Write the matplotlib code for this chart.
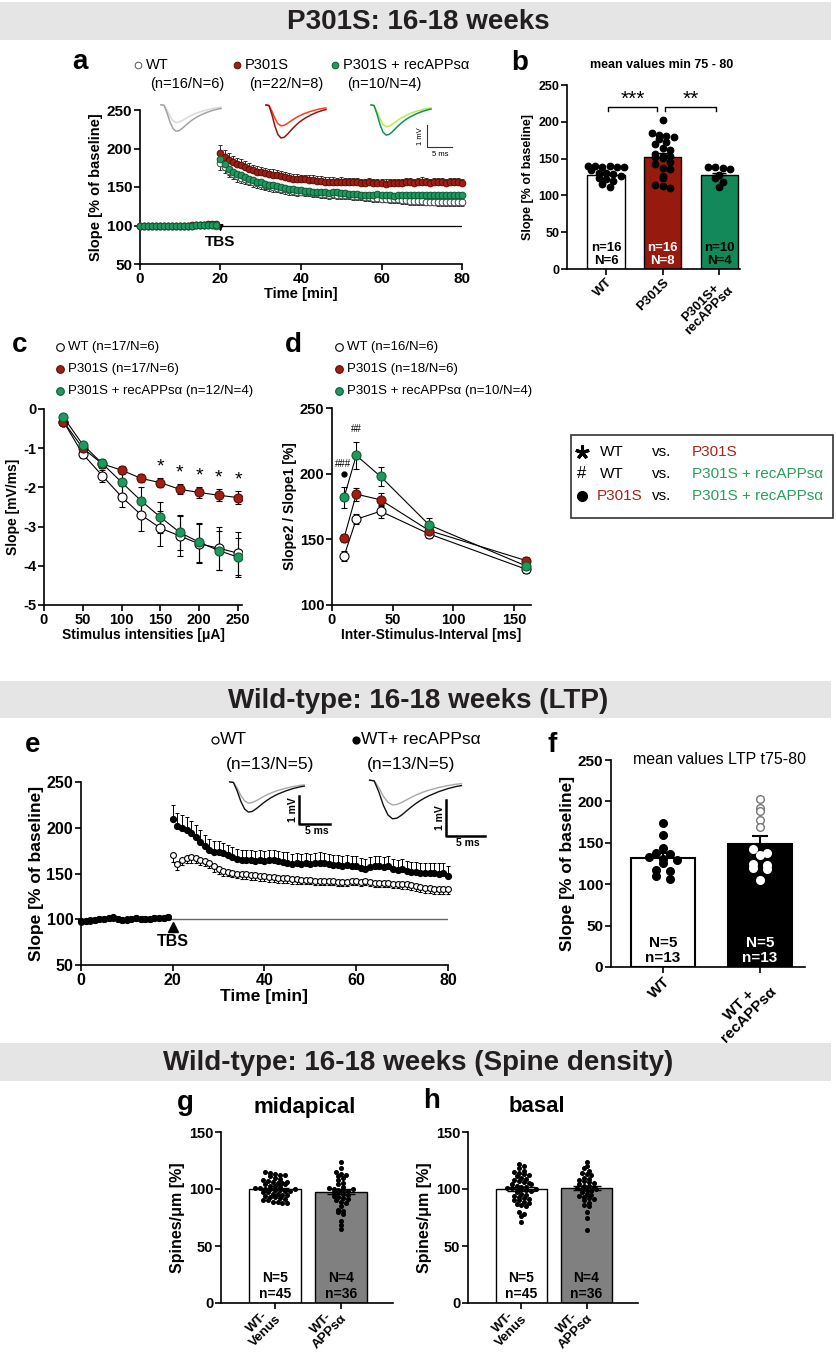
import numpy as np
import matplotlib.pyplot as plt
from matplotlib.patches import Rectangle

plt.rcParams['font.family'] = ['Liberation Sans', 'DejaVu Sans']

RED = '#a31e12'
RED_EDGE = '#5a0c05'
GREEN = '#1f9a5e'
GREEN_EDGE = '#0b5a33'
RED_BAR = '#961a0e'
GREEN_BAR = '#13895a'
RED_TXT = '#a8231a'
GREEN_TXT = '#2a9d5c'

# ---------------- data ----------------
TBS_TIME = 20
t_base = np.arange(0, 20)
t_post = np.arange(20, 81)

# a: LTP P301S 16-18 weeks (slope % of baseline)
a_wt_base = [99, 100, 100, 100, 100, 100, 100, 100, 100, 100, 100, 100, 100, 100, 101, 101, 101, 101, 101, 100]
a_red_base = [100, 100, 100, 100, 100, 100, 100, 100, 100, 100, 100, 100, 100, 101, 101, 101, 101, 102, 102, 102]
a_green_base = [99, 99, 100, 100, 100, 100, 100, 100, 100, 100, 100, 100, 100, 100, 101, 101, 101, 101, 101, 101]
a_red_post = [194, 189, 185, 182, 180, 178, 176, 174, 172, 170,
              169, 168, 167, 166, 165, 164, 163, 162, 161, 161,
              160, 160, 159, 159, 158, 158, 157, 157, 157, 156,
              157, 156, 156, 156, 156, 155, 155, 156, 155, 155,
              155, 154, 155, 155, 155, 155, 156, 156, 155, 156,
              157, 156, 155, 156, 156, 156, 155, 156, 156, 156,
              155]
a_green_post = [187, 180, 174, 170, 167, 165, 163, 161, 159, 157,
                156, 154, 153, 152, 151, 150, 149, 148, 147, 146,
                146, 145, 145, 144, 144, 143, 143, 142, 144, 143,
                142, 142, 141, 141, 141, 140, 140, 140, 140, 141,
                139, 139, 139, 138, 139, 139, 139, 140, 139, 139,
                139, 139, 139, 139, 140, 139, 139, 139, 139, 139,
                139]
a_wt_post = [181, 176, 171, 167, 164, 162, 160, 158, 156, 155,
             154, 152, 151, 150, 149, 148, 147, 146, 145, 144,
             144, 143, 143, 142, 142, 141, 141, 140, 141, 140,
             140, 139, 139, 138, 138, 138, 137, 137, 136, 136,
             135, 135, 134, 134, 134, 133, 133, 132, 132, 132,
             132, 131, 131, 131, 130, 130, 130, 130, 130, 130,
             130]
a_base_sem = [1, 1, 1, 1, 1, 1, 1, 1, 1, 1, 1, 1, 1, 1, 2, 2, 2, 2, 2, 2]
a_red_sem_post = [11, 9, 9, 8, 8, 8, 8, 7, 7, 7,
                  7, 7, 7, 7, 7, 7, 6, 6, 6, 6,
                  6, 6, 6, 6, 6, 6, 6, 6, 6, 6,
                  6, 6, 6, 6, 6, 6, 6, 6, 6, 6,
                  6, 6, 6, 6, 6, 6, 6, 6, 6, 6,
                  6, 6, 6, 6, 6, 6, 6, 6, 6, 6,
                  6]
a_grn_sem_post = [9, 8, 8, 7, 7, 7, 6, 6, 6, 6,
                  6, 6, 6, 6, 6, 6, 6, 6, 6, 6,
                  5, 5, 5, 5, 5, 5, 5, 5, 5, 5,
                  5, 5, 5, 5, 5, 5, 5, 5, 5, 5,
                  5, 5, 5, 5, 5, 5, 5, 5, 5, 5,
                  5, 5, 5, 5, 5, 5, 5, 5, 5, 5,
                  5]

# b: mean values min 75-80
b_groups = ['WT', 'P301S', 'P301S+\nrecAPPsα']
b_means = [128, 152, 128]
b_sem = [3, 5, 3]
b_wt = [140, 140, 139, 140, 138, 138, 134, 131, 130, 129, 126, 124, 122, 119, 116, 112]
b_p301s = [203, 185, 182, 181, 180, 176, 172, 170, 164, 162, 156, 154, 153, 152, 151, 145,
           143, 137, 136, 126, 124, 114, 113, 110]
b_rec = [139, 138, 137, 136, 128, 124, 118, 111]
b_n = ['n=16\nN=6', 'n=16\nN=8', 'n=10\nN=4']

# c: input-output
c_x = [25, 50, 75, 100, 125, 150, 175, 200, 225, 250]
c_wt = [-0.32, -1.15, -1.70, -2.24, -2.70, -3.04, -3.24, -3.44, -3.55, -3.68]
c_red = [-0.32, -1.00, -1.40, -1.56, -1.77, -1.88, -2.05, -2.13, -2.20, -2.26]
c_grn = [-0.21, -0.91, -1.39, -1.87, -2.34, -2.76, -3.15, -3.40, -3.61, -3.78]
c_wt_sem = [0.05, 0.10, 0.15, 0.27, 0.40, 0.45, 0.50, 0.50, 0.55, 0.55]
c_red_sem = [0.04, 0.07, 0.10, 0.10, 0.10, 0.12, 0.13, 0.15, 0.15, 0.17]
c_grn_sem = [0.04, 0.07, 0.12, 0.30, 0.35, 0.40, 0.45, 0.50, 0.50, 0.50]
c_star_x = [150, 175, 200, 225, 250]

# d: paired pulse
d_x = [10, 20, 40, 80, 160]
d_wt = [137.4, 165.3, 171.4, 154.1, 127.2]
d_red = [151.3, 184.4, 180.1, 156.7, 133.8]
d_grn = [182.1, 213.9, 197.9, 161.0, 129.7]
d_wt_sem = [4, 4, 5, 3, 3]
d_red_sem = [3, 5, 5, 4, 3]
d_grn_sem = [8, 10, 7, 5, 3]

# e: LTP wild-type
e_wt_base = [97, 98, 98, 99, 100, 100, 101, 101, 100, 99, 100, 100, 101, 100, 100, 100, 101, 101, 101, 102]
e_app_base = [98, 98, 99, 99, 100, 100, 101, 102, 100, 99, 99, 100, 101, 100, 100, 100, 101, 101, 101, 102]
e_app_post = [210, 202, 200, 198, 194, 190, 184, 180, 176, 174,
              173, 172, 170, 168, 166, 165, 165, 165, 164, 165,
              164, 165, 165, 164, 163, 162, 160, 161, 160, 161,
              160, 161, 162, 161, 160, 159, 159, 158, 159, 158,
              158, 156, 155, 157, 158, 158, 157, 158, 155, 154,
              155, 153, 152, 152, 151, 151, 151, 151, 150, 151,
              147]
e_wt_post = [170, 160, 165, 167, 168, 167, 165, 164, 162, 158,
             155, 153, 152, 151, 150, 149, 149, 148, 148, 147,
             147, 146, 146, 145, 145, 145, 144, 144, 143, 143,
             143, 142, 142, 142, 142, 142, 141, 141, 141, 142,
             142, 141, 142, 141, 140, 140, 140, 140, 139, 139,
             138, 138, 137, 136, 135, 134, 134, 133, 133, 133,
             133]
e_app_sem_post = [15, 14, 14, 14, 13, 13, 13, 12, 12, 12,
                  12, 11, 11, 11, 11, 11, 11, 11, 11, 11,
                  11, 11, 11, 11, 11, 11, 11, 11, 11, 11,
                  11, 11, 11, 11, 11, 11, 11, 11, 11, 11,
                  11, 11, 11, 11, 11, 11, 11, 11, 11, 11,
                  11, 11, 11, 11, 11, 11, 11, 11, 11, 11,
                  11]
e_wt_sem_post = [7, 6, 6, 6, 6, 6, 6, 6, 6, 6,
                 6, 6, 5, 5, 5, 5, 5, 5, 5, 5,
                 5, 5, 5, 5, 5, 5, 5, 5, 5, 5,
                 5, 5, 5, 5, 5, 5, 5, 5, 5, 5,
                 5, 5, 5, 5, 5, 5, 5, 5, 5, 5,
                 5, 5, 5, 5, 5, 5, 5, 5, 5, 5,
                 5]

# f: mean values LTP t75-80
f_groups = ['WT', 'WT +\nrecAPPsα']
f_means = [132, 148]
f_sem = [6, 10]
f_wt = [174, 160, 144, 138, 137, 133, 131, 129, 126, 117, 116, 110, 106]
f_app = [203, 192, 189, 177, 169, 142, 138, 135, 124, 123, 119, 118, 105]
f_n = ['N=5\nn=13', 'N=5\nn=13']

# g, h: spine density
gh_groups = ['WT-\nVenus', 'WT-\nAPPsα']
g_means = [100, 97.5]
g_sem = [1.3, 2.2]
g_venus = [115, 114, 113, 112, 112, 111, 110, 109, 108, 107, 106, 105, 105, 104, 103, 103, 102, 101,
           101, 100, 100, 99, 99, 98, 98, 97, 97, 96, 96, 95, 95, 94, 93, 93, 92, 91, 90, 90, 89,
           89, 88, 88, 104, 106, 100]
g_apps = [124, 118, 115, 113, 112, 111, 110, 108, 105, 104, 102, 101, 100, 99, 99, 98, 97, 97,
          96, 95, 94, 93, 92, 91, 90, 89, 88, 85, 82, 81, 80, 78, 72, 68, 65, 100]
h_means = [100, 101.2]
h_sem = [1.6, 1.8]
h_venus = [122, 120, 118, 116, 115, 114, 113, 112, 111, 110, 109, 108, 107, 106, 105, 104, 103,
           102, 102, 101, 101, 100, 100, 99, 98, 97, 96, 95, 94, 93, 92, 91, 90, 90, 89, 88, 87,
           86, 85, 80, 78, 76, 71, 104, 100]
h_apps = [124, 120, 118, 116, 114, 113, 112, 110, 109, 108, 107, 106, 105, 104, 103, 103, 102,
          101, 100, 99, 98, 97, 96, 95, 94, 93, 92, 91, 90, 88, 86, 85, 80, 75, 64, 100]
gh_n = ['N=5\nn=45', 'N=4\nn=36']

# example EPSP trace (normalised) for the insets
epsp_shape = [0.0, -0.02, -0.3, -0.65, -0.9, -1.0, -0.98, -0.9, -0.8, -0.7, -0.61,
              -0.53, -0.46, -0.4, -0.35, -0.3, -0.26, -0.22, -0.19, -0.16, -0.14]

# ---------------- layout helpers ----------------
W, H = 837, 1353
fig = plt.figure(figsize=(W / 100, H / 100), dpi=100)


def px_axes(left, top, right, bottom, **kw):
    return fig.add_axes([left / W, 1 - bottom / H, (right - left) / W, (bottom - top) / H], **kw)


def style(ax, xticks, yticks, size, xlabels=None, xsize=None, xva='top'):
    for s in ['top', 'right']:
        ax.spines[s].set_visible(False)
    for s in ['left', 'bottom']:
        ax.spines[s].set_linewidth(1.2)
    kw = dict(fontsize=size, fontweight='bold')
    if xlabels is None:
        ax.set_xticks(xticks, [str(v) for v in xticks], **kw)
    else:
        ax.set_xticks(xticks, xlabels, rotation=45, ha='right', va=xva, rotation_mode='anchor',
                      multialignment='center', linespacing=0.95, fontsize=xsize or size,
                      fontweight='bold')
    ax.set_yticks(yticks, [str(v) for v in yticks], **kw)
    ax.tick_params(direction='out', length=4, width=1.2, pad=1.5)


def swarm(vals, bin_size, step):
    vals = np.asarray(vals, dtype=float)
    keys = np.floor(vals / bin_size)
    offs = np.zeros(len(vals))
    for k in np.unique(keys):
        idx = np.where(keys == k)[0]
        offs[idx] = (np.arange(len(idx)) - (len(idx) - 1) / 2) * step
    return offs


def trace_inset(left, top, right, bottom, amps, colors, lw=1.1):
    ta = px_axes(left, top, right, bottom)
    shape = np.array(epsp_shape)
    for amp, col in zip(amps, colors):
        ta.plot(np.arange(len(shape)), shape * amp, color=col, lw=lw)
    ta.set_ylim(-1.03, 0.03)
    ta.axis('off')


# background bands with section headers
bg = px_axes(0, 0, W, H, zorder=-5)
bg.set_xlim(0, W)
bg.set_ylim(H, 0)
bg.axis('off')
headers = [(2, 40, 'P301S: 16-18 weeks'), (681, 718, 'Wild-type: 16-18 weeks (LTP)'),
           (1043, 1081, 'Wild-type: 16-18 weeks (Spine density)')]
for top, bottom, title in headers:
    bg.add_patch(Rectangle((0, top), 831, bottom - top, color='#e5e5e5', lw=0))
    bg.text(418, (top + bottom) / 2 + 1, title, ha='center', va='center', fontsize=20,
            fontweight='bold', color='#231f20')

t_all = np.concatenate([t_base, t_post])

# ---------------- panel a ----------------
ax = px_axes(140, 110, 462, 264)
ax.plot([0, 80], [100, 100], color='black', lw=0.9, zorder=1)
series_a = [(a_wt_base + a_wt_post, a_base_sem + a_grn_sem_post, 'white', '#444444', -1),
            (a_red_base + a_red_post, a_base_sem + a_red_sem_post, RED, RED_EDGE, 1),
            (a_green_base + a_green_post, a_base_sem + a_grn_sem_post, GREEN, GREEN_EDGE, -1)]
for vals, sem, face, edge, side in series_a:
    sem = np.array(sem, dtype=float)
    zero = np.zeros_like(sem)
    yerr = [sem, zero] if side < 0 else [zero, sem]
    ax.errorbar(t_all, vals, yerr=yerr, fmt='o', ms=4.8, mfc=face, mec=edge, mew=0.7,
                ecolor='#333333', elinewidth=0.7, capsize=1.5, capthick=0.7, clip_on=False, zorder=3)
ax.annotate('', xy=(TBS_TIME, 89), xytext=(TBS_TIME, 99),
            arrowprops=dict(arrowstyle='-|>', color='black', lw=1.2, mutation_scale=8))
ax.text(TBS_TIME, 78, 'TBS', ha='center', va='center', fontsize=11, fontweight='bold')
ax.set_xlim(0, 80)
ax.set_ylim(50, 250)
style(ax, [0, 20, 40, 60, 80], [50, 100, 150, 200, 250], 11)
ax.set_xlabel('Time [min]', fontsize=10.5, fontweight='bold', labelpad=1)
ax.set_ylabel('Slope [% of baseline]', fontsize=10.5, fontweight='bold', labelpad=3)

trace_inset(158, 104, 224, 132, [0.67, 1.0], ['#dadada', '#a3a3a3'])
trace_inset(263, 104, 329, 139, [0.63, 1.0], ['#ff3b1f', '#8e1810'])
trace_inset(368, 104, 434, 136, [0.72, 1.0], ['#b5ef47', '#138f58'])

# ---------------- panel b ----------------
ax = px_axes(567, 85, 740, 269)
xb = np.arange(len(b_groups))
ax.bar(xb, b_means, width=0.655, color=['white', RED_BAR, GREEN_BAR], edgecolor='black', lw=1, zorder=1)
ax.errorbar(xb, b_means, yerr=[np.zeros(3), b_sem], fmt='none', ecolor='black', capsize=5,
            elinewidth=1, capthick=1, zorder=2)
for i, vals in enumerate([b_wt, b_p301s, b_rec]):
    ax.plot(i + swarm(vals, 9, 0.13), vals, 'o', ms=4.6, color='black', zorder=3)
ax.plot([0.03, 0.03, 0.9, 0.9], [215, 220, 220, 215], color='black', lw=1)
ax.plot([1.05, 1.05, 1.95, 1.95], [215, 220, 220, 215], color='black', lw=1)
ax.text(0.47, 217, '***', ha='center', va='bottom', fontsize=15)
ax.text(1.5, 217, '**', ha='center', va='bottom', fontsize=15)
for i, lab in enumerate(b_n):
    ax.text(i, 20, lab, ha='center', va='center', fontsize=9.5, fontweight='bold',
            color='white' if i == 1 else 'black', linespacing=1.05)
ax.set_xlim(-0.69, 2.37)
ax.set_ylim(0, 250)
style(ax, xb, [0, 50, 100, 150, 200, 250], 9, xlabels=b_groups, xsize=9.5)
ax.set_ylabel('Slope [% of baseline]', fontsize=9, fontweight='bold', labelpad=3)

# ---------------- panel c ----------------
ax = px_axes(44, 409, 242, 605)
for vals, sem, face, edge in [(c_wt, c_wt_sem, 'white', 'black'), (c_red, c_red_sem, RED, RED_EDGE),
                              (c_grn, c_grn_sem, GREEN, GREEN_EDGE)]:
    ax.errorbar(c_x, vals, yerr=sem, fmt='-o', color='black', lw=0.8, ms=6.5, mfc=face, mec=edge,
                mew=0.8, ecolor='black', elinewidth=0.8, capsize=2, capthick=0.8, zorder=3)
for x in c_star_x:
    i = c_x.index(x)
    ax.text(x, c_red[i] + c_red_sem[i] + 0.28, '*', ha='center', va='center', fontsize=14)
ax.set_xlim(0, 255)
ax.set_ylim(-5, 0)
style(ax, [0, 50, 100, 150, 200, 250], [-5, -4, -3, -2, -1, 0], 10.5)
ax.set_xlabel('Stimulus intensities [μA]', fontsize=10, fontweight='bold', labelpad=1)
ax.set_ylabel('Slope [mV/ms]', fontsize=10, fontweight='bold', labelpad=2)

# ---------------- panel d ----------------
ax = px_axes(332, 408, 531, 605)
for vals, sem, face, edge in [(d_wt, d_wt_sem, 'white', 'black'), (d_red, d_red_sem, RED, RED_EDGE),
                              (d_grn, d_grn_sem, GREEN, GREEN_EDGE)]:
    ax.errorbar(d_x, vals, yerr=sem, fmt='-o', color='black', lw=0.8, ms=6.5, mfc=face, mec=edge,
                mew=0.8, ecolor='black', elinewidth=0.8, capsize=2, capthick=0.8, zorder=3)
ax.text(d_x[0] - 1, 207.5, '###', ha='center', va='center', fontsize=7)
ax.plot(d_x[0], 199.7, 'o', color='black', ms=3.5)
ax.text(d_x[1], 234, '##', ha='center', va='center', fontsize=7)
ax.set_xlim(0, 164)
ax.set_ylim(100, 250)
style(ax, [0, 50, 100, 150], [100, 150, 200, 250], 10.5)
ax.set_xlabel('Inter-Stimulus-Interval [ms]', fontsize=10, fontweight='bold', labelpad=1)
ax.set_ylabel('Slope2 / Slope1 [%]', fontsize=10, fontweight='bold', labelpad=2)

# ---------------- panel e ----------------
ax = px_axes(81, 782, 448, 965)
ax.plot([0, 80], [100, 100], color='#666666', lw=1, zorder=1)
e_wt = np.array(e_wt_base + e_wt_post, dtype=float)
e_app = np.array(e_app_base + e_app_post, dtype=float)
sem_wt = np.array([1] * len(t_base) + e_wt_sem_post, dtype=float)
sem_app = np.array([1] * len(t_base) + e_app_sem_post, dtype=float)
ax.errorbar(t_all, e_wt, yerr=[sem_wt, np.zeros_like(sem_wt)], fmt='o', ms=4.2, mfc='white', mec='black',
            mew=0.8, ecolor='black', elinewidth=0.7, capsize=1.5, capthick=0.7, clip_on=False, zorder=3)
ax.errorbar(t_all, e_app, yerr=[np.zeros_like(sem_app), sem_app], fmt='o', ms=4.2, color='black',
            ecolor='black', elinewidth=0.7, capsize=1.5, capthick=0.7, clip_on=False, zorder=4)
ax.plot(TBS_TIME, 91, marker='^', color='black', ms=7, clip_on=False)
ax.text(TBS_TIME, 76, 'TBS', ha='center', va='center', fontsize=11.5, fontweight='bold')
ax.set_xlim(0, 80)
ax.set_ylim(50, 250)
style(ax, [0, 20, 40, 60, 80], [50, 100, 150, 200, 250], 11.5)
ax.set_xlabel('Time [min]', fontsize=12.5, fontweight='bold', labelpad=1)
ax.set_ylabel('Slope [% of baseline]', fontsize=12.5, fontweight='bold', labelpad=2)

trace_inset(226, 781, 308, 813, [0.7, 1.0], ['#a8a8a8', '#111111'], lw=1.0)
trace_inset(365, 779, 466, 820, [0.64, 1.0], ['#a8a8a8', '#111111'], lw=1.0)

# ---------------- panel f ----------------
ax = px_axes(611, 760, 805, 967)
xf = np.arange(len(f_groups))
ax.bar(xf, f_means, width=0.65, color=['white', 'black'], edgecolor='black', lw=1.5, zorder=1)
ax.errorbar(xf, f_means, yerr=[np.zeros(2), f_sem], fmt='none', ecolor='black', capsize=6,
            elinewidth=1.5, capthick=1.5, zorder=2)
ax.plot(xf[0] + swarm(f_wt, 8, 0.14), f_wt, 'o', ms=5.5, color='black', zorder=3)
f_app_arr = np.array(f_app, dtype=float)
off = swarm(f_app, 8, 0.14)
above = f_app_arr > f_means[1]
ax.plot(xf[1] + off[above], f_app_arr[above], 'o', ms=5.5, mfc='white', mec='#777777', mew=1, zorder=3)
ax.plot(xf[1] + off[~above], f_app_arr[~above], 'o', ms=5.5, color='white', zorder=3)
for i, lab in enumerate(f_n):
    ax.text(i, 20, lab, ha='center', va='center', fontsize=11, fontweight='bold',
            color='white' if i == 1 else 'black', linespacing=1.1)
ax.set_xlim(-0.536, 1.464)
ax.set_ylim(0, 250)
style(ax, xf, [0, 50, 100, 150, 200, 250], 11, xlabels=f_groups)
ax.set_ylabel('Slope [% of baseline]', fontsize=12.5, fontweight='bold', labelpad=2)

# ---------------- panels g, h ----------------
for (l, r), means, sem, pts in [((221, 393), g_means, g_sem, [g_venus, g_apps]),
                                ((468, 638), h_means, h_sem, [h_venus, h_apps])]:
    ax = px_axes(l, 1132, r, 1303)
    xg = np.arange(2)
    ax.bar(xg, means, width=0.78, color=['white', '#808080'], edgecolor='black', lw=1, zorder=1)
    for i, vals in enumerate(pts):
        ax.plot(i + swarm(vals, 3.5, 0.075), vals, 'o', ms=2.6, color='black', zorder=3)
    ax.errorbar(xg, means, yerr=sem, fmt='none', ecolor='black', capsize=10, elinewidth=1,
                capthick=1, zorder=4)
    for i, lab in enumerate(gh_n):
        ax.text(i, 15, lab, ha='center', va='center', fontsize=10, fontweight='bold', linespacing=1.15)
    ax.set_xlim(-0.82, 1.79)
    ax.set_ylim(0, 150)
    style(ax, xg, [0, 50, 100, 150], 10.5, xlabels=gh_groups, xsize=9.5, xva='center')
    ax.tick_params(axis='x', pad=3)
    ax.set_ylabel('Spines/μm [%]', fontsize=11.5, fontweight='bold', labelpad=3)

# ---------------- overlay: labels, legends, scale bars ----------------
over = px_axes(0, 0, W, H, zorder=10)
over.set_xlim(0, W)
over.set_ylim(H, 0)
over.axis('off')

for lab, x, y in [('a', 80, 62), ('b', 520, 63), ('c', 20, 345), ('d', 293, 345),
                  ('e', 33, 745), ('f', 552, 745), ('g', 185, 1103), ('h', 432, 1101)]:
    over.text(x, y, lab, ha='center', va='center', fontsize=20, fontweight='bold')

# legend a
for x, face, edge, name, ncount in [(138, 'white', '#555555', 'WT', '(n=16/N=6)'),
                                    (237, RED, RED_EDGE, 'P301S', '(n=22/N=8)'),
                                    (335, GREEN, GREEN_EDGE, 'P301S + recAPPsα', '(n=10/N=4)')]:
    over.plot(x, 65, 'o', ms=4.8, mfc=face, mec=edge, mew=0.7)
    over.text(x + 8, 65, name, ha='left', va='center', fontsize=10.5)
    over.text(x + 12, 84, ncount, ha='left', va='center', fontsize=10.5)

# legends c and d
for x0, items in [(60, [('WT (n=17/N=6)', 'white', 'black'), ('P301S (n=17/N=6)', RED, RED_EDGE),
                        ('P301S + recAPPsα (n=12/N=4)', GREEN, GREEN_EDGE)]),
                  (339, [('WT (n=16/N=6)', 'white', 'black'), ('P301S (n=18/N=6)', RED, RED_EDGE),
                         ('P301S + recAPPsα (n=10/N=4)', GREEN, GREEN_EDGE)])]:
    for k, (txt, face, edge) in enumerate(items):
        y = 347 + 22 * k
        over.plot(x0, y, 'o', ms=5.5, mfc=face, mec=edge, mew=0.8)
        over.text(x0 + 8, y, txt, ha='left', va='center', fontsize=9.5)

# significance key box
over.add_patch(Rectangle((571, 435), 262, 83, fill=False, ec='#333333', lw=1.2))
key_rows = [('star', 'WT', 'black', 'P301S', RED_TXT),
            ('hash', 'WT', 'black', 'P301S + recAPPsα', GREEN_TXT),
            ('dot', 'P301S', RED_TXT, 'P301S + recAPPsα', GREEN_TXT)]
for k, (sym, left, lcol, right, rcol) in enumerate(key_rows):
    y = 452 + 22 * k
    if sym == 'dot':
        over.plot(582, y, 'o', ms=7, color='black')
    elif sym == 'star':
        over.plot(582, y, marker=(5, 2, 0), ms=10, mew=2.2, color='black')
    else:
        over.text(582, y, '#', ha='center', va='center', fontsize=12)
    over.text(600 if left == 'WT' else 597, y, left, ha='left', va='center', fontsize=11, color=lcol)
    over.text(652, y, 'vs.', ha='left', va='center', fontsize=11)
    over.text(692, y, right, ha='left', va='center', fontsize=11, color=rcol)

# panel b title, f title
over.text(662, 65, 'mean values min 75 - 80', ha='center', va='center', fontsize=9, fontweight='bold')
over.text(720, 760, 'mean values LTP t75-80', ha='center', va='center', fontsize=11.5)

# legend e
for x, face, name in [(215, 'white', 'WT'), (356, 'black', 'WT+ recAPPsα')]:
    over.plot(x, 740, 'o', ms=5, mfc=face, mec='black', mew=0.9)
    over.text(x + 5, 740, name, ha='left', va='center', fontsize=12.5)
    over.text(x + 11, 765, '(n=13/N=5)', ha='left', va='center', fontsize=12.5)

# titles g, h
over.text(305, 1107, 'midapical', ha='center', va='center', fontsize=16, fontweight='bold')
over.text(537, 1107, 'basal', ha='center', va='center', fontsize=16, fontweight='bold')

# scale bars
over.plot([427, 427, 452], [125, 147, 147], color='#333333', lw=0.8)
over.text(421, 136, '1 mV', rotation=90, ha='center', va='center', fontsize=5.5)
over.text(440, 154, '5 ms', ha='center', va='center', fontsize=5.5)
for xv, y0, y1, xh in [(299, 796, 824, 330), (446, 800, 836, 485)]:
    over.plot([xv, xv, xh], [y0, y1, y1], color='black', lw=1.8)
    over.text(xv - 6, (y0 + y1) / 2, '1 mV', rotation=90, ha='center', va='center', fontsize=7.5,
              fontweight='bold')
    over.text((xv + xh) / 2 + 2, y1 + 7, '5 ms', ha='center', va='center', fontsize=7.5,
              fontweight='bold')

fig.savefig('out.png', dpi=100)
